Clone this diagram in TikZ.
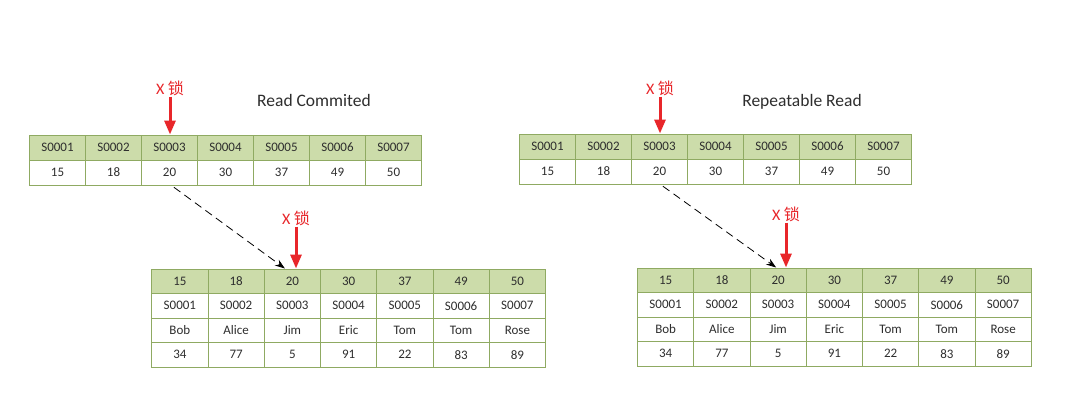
\documentclass[tikz,border=0pt]{standalone}
\usepackage{fontspec}
\setmainfont{Carlito}
\newfontfamily\cjk{Noto Sans CJK SC}
\usetikzlibrary{arrows.meta}
\definecolor{hdr}{HTML}{CCDCAA}
\definecolor{bord}{HTML}{8FAA62}
\definecolor{txt}{HTML}{2E2E2E}
\definecolor{lockred}{HTML}{E8262A}
\begin{document}
\begin{tikzpicture}[x=1pt,y=-1pt,
  cell/.style={draw=bord, line width=1pt, minimum width=56pt, minimum height=25pt, inner sep=0pt, font=\fontsize{13}{15}\selectfont, text=txt},
  hcell/.style={cell, fill=hdr},
  lock/.style={text=lockred, inner sep=1pt, font=\fontsize{16}{18}\selectfont},
  lockarrow/.style={draw=lockred, line width=3pt, -{Triangle[length=14pt,width=11pt]}},
  ptr/.style={draw=black, line width=0.8pt, dash pattern=on 8pt off 5pt, -{Stealth[length=10pt,width=7pt]}},
  title/.style={font=\fontsize{17.5}{20}\selectfont, text=txt}]
\useasboundingbox[fill=white] (0,0) rectangle (1080,413);

% ---- left top table
\foreach \i/\v in {1/15,2/18,3/20,4/30,5/37,6/49,7/50} {
  \node[hcell, minimum width=56pt] (la-k\i) at ({29.5+56*(\i-0.5)},147.5) {S000\i};
  \node[cell, minimum width=56pt] (la-v\i) at ({29.5+56*(\i-0.5)},172.5) {\v};
}
% ---- left bottom table
\foreach \i/\v/\n/\a in {1/15/Bob/34,2/18/Alice/77,3/20/Jim/5,4/30/Eric/91,5/37/Tom/22,6/49/Tom/83,7/50/Rose/89} {
  \node[hcell, minimum width=56.25pt, minimum height=24.5pt] (lb-h\i) at ({151.75+56.25*(\i-0.5)},281.25) {\v};
  \node[cell, minimum width=56.25pt, minimum height=24.5pt] (lb-s\i) at ({151.75+56.25*(\i-0.5)},305.75) {S000\i};
  \node[cell, minimum width=56.25pt, minimum height=24.5pt] (lb-n\i) at ({151.75+56.25*(\i-0.5)},330.25) {\n};
  \node[cell, minimum width=56.25pt, minimum height=24.5pt] (lb-a\i) at ({151.75+56.25*(\i-0.5)},354.75) {\a};
}
% ---- right top table
\foreach \i/\v in {1/15,2/18,3/20,4/30,5/37,6/49,7/50} {
  \node[hcell, minimum width=56pt] (ra-k\i) at ({519.5+56*(\i-0.5)},146.5) {S000\i};
  \node[cell, minimum width=56pt] (ra-v\i) at ({519.5+56*(\i-0.5)},171.5) {\v};
}
% ---- right bottom table
\foreach \i/\v/\n/\a in {1/15/Bob/34,2/18/Alice/77,3/20/Jim/5,4/30/Eric/91,5/37/Tom/22,6/49/Tom/83,7/50/Rose/89} {
  \node[hcell, minimum width=56.25pt, minimum height=24.5pt] (rb-h\i) at ({637.5+56.25*(\i-0.5)},280.25) {\v};
  \node[cell, minimum width=56.25pt, minimum height=24.5pt] (rb-s\i) at ({637.5+56.25*(\i-0.5)},304.75) {S000\i};
  \node[cell, minimum width=56.25pt, minimum height=24.5pt] (rb-n\i) at ({637.5+56.25*(\i-0.5)},329.25) {\n};
  \node[cell, minimum width=56.25pt, minimum height=24.5pt] (rb-a\i) at ({637.5+56.25*(\i-0.5)},353.75) {\a};
}

% titles
\node[title] (t1) at (314,100) {Read Commited};
\node[title] (t2) at (802,102) {Repeatable Read};

% lock labels and arrows
\node[lock] (lk1) at (170,88) {X {\cjk 锁}};
\node[lock] (lk2) at (296,218) {X {\cjk 锁}};
\node[lock] (lk3) at (660,88) {X {\cjk 锁}};
\node[lock] (lk4) at (786,214) {X {\cjk 锁}};
\draw[lockarrow] (lk1.south) -- (lk1.south |- la-k3.north);
\draw[lockarrow] (lk2.south) -- (lk2.south |- lb-h3.north);
\draw[lockarrow] (lk3.south) -- (lk3.south |- ra-k3.north);
\draw[lockarrow] (lk4.south) -- (lk4.south |- rb-h3.north);

% dashed pointers
\draw[ptr, shorten <=3pt] ([xshift=2pt]la-v3.south) -- ([xshift=-7.5pt]lb-h3.north);
\draw[ptr, shorten <=3pt] ([xshift=1pt]ra-v3.south) -- ([xshift=-2pt]rb-h3.north);
\end{tikzpicture}
\end{document}
